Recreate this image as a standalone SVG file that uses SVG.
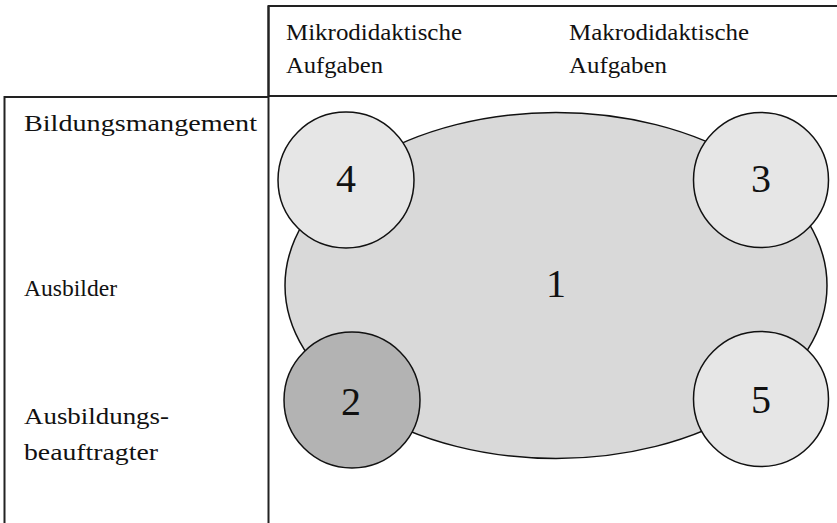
<svg xmlns="http://www.w3.org/2000/svg" width="837" height="523" viewBox="0 0 837 523">
  <style>
    .frame { fill: none; stroke: #222; stroke-width: 2; }
    .label { font-family: "Liberation Serif", "DejaVu Serif", serif; font-size: 23px; fill: #111; }
    .num { font-family: "Liberation Serif", "DejaVu Serif", serif; font-size: 40px; fill: #111; text-anchor: middle; }
    .node { stroke: #111; stroke-width: 1.5; }
    .light { fill: #e6e6e6; }
    .dark { fill: #b3b3b3; }
  </style>
  <rect width="837" height="523" fill="#ffffff"/>

  <!-- header row and left column frames -->
  <g id="frames">
    <rect class="frame" x="268.5" y="6" width="580" height="90"/>
    <polyline class="frame" points="4.5,523 4.5,97 268.5,97"/>
    <line class="frame" x1="268.5" y1="6" x2="268.5" y2="523"/>
  </g>

  <!-- column headers -->
  <g id="headers">
    <text class="label" x="286" y="40" textLength="176" lengthAdjust="spacingAndGlyphs">Mikrodidaktische</text>
    <text class="label" x="286" y="73" textLength="97" lengthAdjust="spacingAndGlyphs">Aufgaben</text>
    <text class="label" x="569" y="40" textLength="180" lengthAdjust="spacingAndGlyphs">Makrodidaktische</text>
    <text class="label" x="569" y="73" textLength="98" lengthAdjust="spacingAndGlyphs">Aufgaben</text>
  </g>

  <!-- row headers -->
  <g id="rows">
    <text class="label" x="24" y="131" textLength="233" lengthAdjust="spacingAndGlyphs">Bildungsmangement</text>
    <text class="label" x="24" y="296" textLength="93" lengthAdjust="spacingAndGlyphs">Ausbilder</text>
    <text class="label" x="24" y="424" textLength="145" lengthAdjust="spacingAndGlyphs">Ausbildungs-</text>
    <text class="label" x="24" y="460" textLength="134" lengthAdjust="spacingAndGlyphs">beauftragter</text>
  </g>

  <g id="connectors"></g>

  <g id="node-1">
    <ellipse class="node" cx="556" cy="285.5" rx="271" ry="173" fill="#d9d9d9"/>
    <text class="num" x="556" y="297">1</text>
  </g>
  <g id="node-4">
    <circle class="node light" cx="346" cy="180" r="68"/>
    <text class="num" x="346" y="192">4</text>
  </g>
  <g id="node-3">
    <circle class="node light" cx="761" cy="180" r="67.5"/>
    <text class="num" x="761" y="192">3</text>
  </g>
  <g id="node-2">
    <circle class="node dark" cx="352" cy="400" r="68"/>
    <text class="num" x="351" y="415">2</text>
  </g>
  <g id="node-5">
    <circle class="node light" cx="761" cy="399" r="67.5"/>
    <text class="num" x="761" y="413">5</text>
  </g>
</svg>
